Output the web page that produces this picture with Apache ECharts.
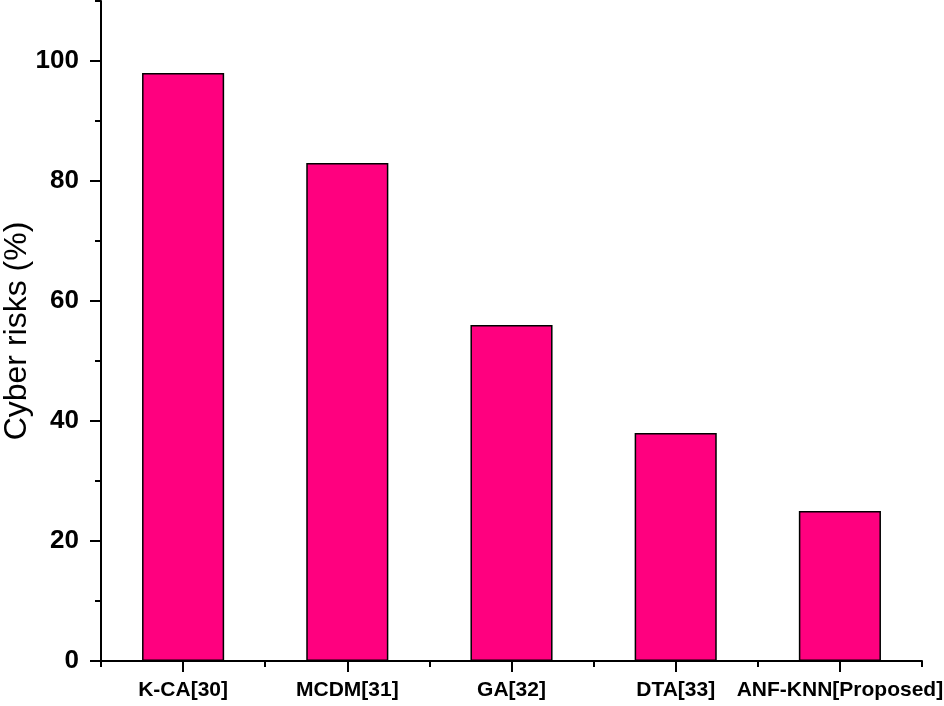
<!DOCTYPE html>
<html>
<head>
<meta charset="utf-8">
<script src="https://cdn.jsdelivr.net/npm/echarts@6/dist/echarts.min.js"></script>
<style>
html,body{margin:0;padding:0;background:#fff;}
#chart{width:944px;height:706px;}
</style>
</head>
<body>
<div id="chart"></div>
<script>
const categories = ['K-CA[30]', 'MCDM[31]', 'GA[32]', 'DTA[33]', 'ANF-KNN[Proposed]'];
const cyberRisks = [98, 83, 56, 38, 25];
const yTickLabels = [0, 20, 40, 60, 80, 100];
const yMinorTicks = [0, 10, 20, 30, 40, 50, 60, 70, 80, 90, 100, 110];

const font = 'Liberation Sans, Arial, sans-serif';
const chart = echarts.init(document.getElementById('chart'), null, {renderer: 'canvas'});
chart.setOption({
  animation: false,
  backgroundColor: '#ffffff',
  grid: {left: 101, right: 22, top: 1, bottom: 45, containLabel: false, outerBoundsMode: 'none'},
  xAxis: [{
    type: 'category',
    data: categories,
    boundaryGap: true,
    axisLine: {show: true, lineStyle: {color: '#000', width: 2}},
    axisTick: {show: true, alignWithLabel: true, length: 11, lineStyle: {color: '#000', width: 2}},
    axisLabel: {color: '#000', fontFamily: font, fontWeight: 'bold', fontSize: 21, margin: 19, interval: 0},
    splitLine: {show: false}
  }, {
    type: 'category',
    data: categories,
    position: 'bottom',
    boundaryGap: true,
    axisLine: {show: false},
    axisTick: {show: true, length: 6, interval: 0, lineStyle: {color: '#000', width: 2}},
    axisLabel: {show: false},
    splitLine: {show: false}
  }],
  yAxis: [{
    type: 'value',
    min: 0,
    max: 110,
    interval: 20,
    name: 'Cyber risks (%)',
    nameLocation: 'middle',
    nameGap: 68,
    nameMoveOverlap: false,
    nameTextStyle: {color: '#000', fontFamily: font, fontSize: 32},
    axisLine: {show: true, lineStyle: {color: '#000', width: 2}},
    axisTick: {show: true, length: 11, customValues: yTickLabels, lineStyle: {color: '#000', width: 2}},
    axisLabel: {color: '#000', fontFamily: font, fontWeight: 'bold', fontSize: 26, margin: 22, customValues: yTickLabels},
    splitLine: {show: false}
  }, {
    type: 'value',
    min: 0,
    max: 110,
    position: 'left',
    axisLine: {show: false},
    axisTick: {show: true, length: 6, customValues: yMinorTicks, lineStyle: {color: '#000', width: 2}},
    axisLabel: {show: false},
    splitLine: {show: false}
  }],
  series: [{
    type: 'bar',
    data: cyberRisks,
    xAxisIndex: 0,
    yAxisIndex: 0,
    barWidth: '50%',
    itemStyle: {color: '#FF007F', borderColor: '#000', borderWidth: 1.5}
  }]
});
</script>
</body>
</html>
